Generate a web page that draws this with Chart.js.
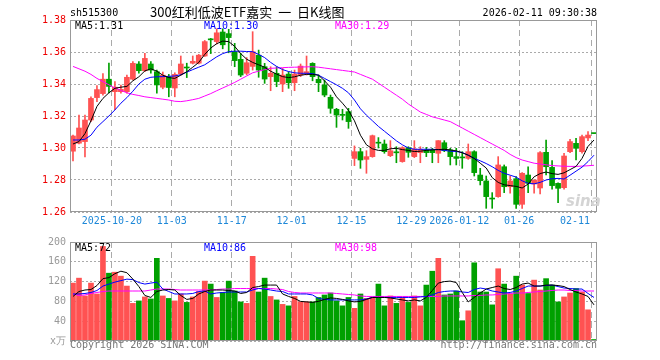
<!DOCTYPE html>
<html>
<head>
<meta charset="utf-8">
<script src="https://cdn.jsdelivr.net/npm/chart.js@4.4.1/dist/chart.umd.min.js"></script>
<style>
    body { margin: 0; background: #fff; width: 660px; height: 360px; overflow: hidden; position: relative;
           font-family: "DejaVu Sans Mono", monospace; font-size: 10px; }
    .t { position: absolute; white-space: pre; line-height: 10px; }
    canvas { position: absolute; left: 0; }
</style>
</head>
<body>
<canvas id="price" width="660" height="232" style="top:0"></canvas>
<canvas id="vol" width="660" height="128" style="top:232px"></canvas>

<div class="t" style="left:70px;top:8px">sh515300</div>
<div class="t" style="left:150px;top:5px;font:13px/13px 'Noto Sans CJK SC';word-spacing:3px">300红利低波ETF嘉实 一 日K线图</div>
<div class="t" style="right:63px;top:8px">2026-02-11 09:30:38</div>
<div class="t" style="left:75px;top:21px;color:#000">MA5:1.31</div>
<div class="t" style="left:204px;top:21px;color:#00f">MA10:1.30</div>
<div class="t" style="left:335px;top:21px;color:#f0f">MA30:1.29</div>
<div class="t" style="left:566px;top:194px;font:italic bold 15px/15px 'DejaVu Sans';color:#d4d4d4">sina</div>
<div class="t" style="left:75px;top:243px;color:#000">MA5:72</div>
<div class="t" style="left:204px;top:243px;color:#00f">MA10:86</div>
<div class="t" style="left:335px;top:243px;color:#f0f">MA30:98</div>
<div class="t" style="left:70px;top:340px;color:#777">Copyright 2026 SINA.COM</div>
<div class="t" style="right:63px;top:340px;color:#777">http://finance.sina.com.cn</div>

<script>
// trading days shown (2025-10-09 .. 2026-02-11)
const dates = [
    '10-09', '10-10', '10-13', '10-14', '10-15', '10-16', '10-17', '10-20', '10-21', '10-22',
    '10-23', '10-24', '10-27', '10-28', '10-29', '10-30', '10-31', '11-03', '11-04', '11-05',
    '11-06', '11-07', '11-10', '11-11', '11-12', '11-13', '11-14', '11-17', '11-18', '11-19',
    '11-20', '11-21', '11-24', '11-25', '11-26', '11-27', '11-28', '12-01', '12-02', '12-03',
    '12-04', '12-05', '12-08', '12-09', '12-10', '12-11', '12-12', '12-15', '12-16', '12-17',
    '12-18', '12-19', '12-22', '12-23', '12-24', '12-25', '12-26', '12-29', '12-30', '12-31',
    '01-05', '01-06', '01-07', '01-08', '01-09', '01-12', '01-13', '01-14', '01-15', '01-16',
    '01-19', '01-20', '01-21', '01-22', '01-23', '01-26', '01-27', '01-28', '01-29', '01-30',
    '02-02', '02-03', '02-04', '02-05', '02-06', '02-09', '02-10', '02-11'
];
const axisLabels = ['2025-10-20', '11-03', '11-17', '12-01', '12-15', '12-29', '2026-01-12', '01-26', '02-11'];

const opens = [
    1.298, 1.303, 1.304, 1.3175, 1.3315, 1.334, 1.343, 1.3352, 1.3352, 1.3352,
    1.343, 1.3525, 1.3483, 1.3525, 1.3477, 1.338, 1.3445, 1.3375, 1.3463, 1.3505,
    1.353, 1.353, 1.3575, 1.3682, 1.3665, 1.3725, 1.3715, 1.3602, 1.3554, 1.3467,
    1.351, 1.358, 1.3508, 1.3446, 1.3467, 1.34, 1.3462, 1.3408, 1.3456, 1.3467,
    1.3529, 1.3429, 1.3394, 1.3317, 1.3242, 1.3208, 1.3227, 1.2935, 1.2977, 1.2929,
    1.2946, 1.3035, 1.3025, 1.2952, 1.2975, 1.2915, 1.3002, 1.2946, 1.2971, 1.2988,
    1.2988, 1.2967, 1.3033, 1.2988, 1.2946, 1.2942, 1.2935, 1.2977, 1.2831, 1.2794,
    1.2685, 1.2696, 1.2883, 1.2758, 1.2808, 1.2648, 1.2831, 1.2775, 1.275, 1.2973,
    1.2879, 1.2779, 1.2752, 1.2977, 1.3029, 1.2977, 1.3063, 1.3092
];
const highs = [
    1.308, 1.3205, 1.3205, 1.332, 1.339, 1.3465, 1.353, 1.3415, 1.3394, 1.3456,
    1.354, 1.354, 1.3592, 1.354, 1.3487, 1.3475, 1.346, 1.347, 1.3575, 1.353,
    1.3575, 1.3585, 1.3672, 1.3685, 1.3745, 1.3745, 1.3742, 1.3654, 1.3592, 1.3565,
    1.3727, 1.3612, 1.3529, 1.3508, 1.3508, 1.3498, 1.3477, 1.3487, 1.3525, 1.3575,
    1.3533, 1.3456, 1.3425, 1.3331, 1.3248, 1.3242, 1.3248, 1.3013, 1.2998, 1.2983,
    1.3081, 1.3065, 1.305, 1.3046, 1.3008, 1.3008, 1.3008, 1.3046, 1.3008, 1.3004,
    1.2998, 1.3046, 1.3046, 1.2998, 1.2998, 1.2977, 1.3025, 1.2983, 1.2873, 1.2825,
    1.2721, 1.2946, 1.2894, 1.2825, 1.2821, 1.2846, 1.2883, 1.28, 1.2977, 1.305,
    1.2921, 1.2783, 1.2967, 1.3054, 1.306, 1.3081, 1.3102, 1.3092
];
const lows = [
    1.292, 1.3025, 1.2945, 1.3165, 1.329, 1.333, 1.3345, 1.324, 1.3342, 1.3342,
    1.3425, 1.3467, 1.3477, 1.3467, 1.3342, 1.337, 1.332, 1.332, 1.3455, 1.344,
    1.3525, 1.3525, 1.3572, 1.359, 1.365, 1.362, 1.3595, 1.3508, 1.3446, 1.3457,
    1.3487, 1.3442, 1.3404, 1.3358, 1.3383, 1.3352, 1.3373, 1.3358, 1.3446, 1.3456,
    1.342, 1.3352, 1.332, 1.3217, 1.3129, 1.3175, 1.3123, 1.289, 1.2873, 1.2842,
    1.2942, 1.3, 1.2967, 1.2946, 1.2908, 1.2911, 1.2942, 1.294, 1.2908, 1.2946,
    1.2908, 1.2908, 1.2977, 1.2894, 1.2894, 1.2873, 1.2929, 1.2825, 1.2769, 1.2623,
    1.2623, 1.2692, 1.2721, 1.2717, 1.2623, 1.2623, 1.2721, 1.2717, 1.2713, 1.2831,
    1.2742, 1.2658, 1.2742, 1.2971, 1.2925, 1.2967, 1.3046, 1.309
];
const closes = [
    1.3075, 1.3125, 1.3175, 1.331, 1.3365, 1.343, 1.3385, 1.338, 1.3367, 1.3442,
    1.3529, 1.3483, 1.356, 1.3487, 1.3394, 1.3455, 1.3378, 1.346, 1.3525, 1.35,
    1.3542, 1.358, 1.3665, 1.3676, 1.372, 1.3645, 1.369, 1.3546, 1.3456, 1.3533,
    1.3602, 1.3487, 1.3431, 1.3467, 1.3415, 1.3456, 1.3408, 1.3462, 1.3512, 1.3477,
    1.3446, 1.3408, 1.3331, 1.3248, 1.3206, 1.3204, 1.3165, 1.2977, 1.2925, 1.2946,
    1.3077, 1.303, 1.2977, 1.2983, 1.297, 1.3002, 1.2973, 1.2994, 1.2992, 1.2971,
    1.2971, 1.3046, 1.2983, 1.2946, 1.2935, 1.2938, 1.2977, 1.2846, 1.2796, 1.2696,
    1.2681, 1.2894, 1.2758, 1.2794, 1.2648, 1.2842, 1.2779, 1.28, 1.2971, 1.2883,
    1.2765, 1.2748, 1.295, 1.304, 1.2998, 1.3071, 1.3081, 1.309
];

// moving average lines
const ma5 = [
    1.3025, 1.304, 1.309, 1.317, 1.326, 1.331, 1.3345, 1.3373, 1.338, 1.3385,
    1.342, 1.3445, 1.3482, 1.3495, 1.348, 1.3455, 1.344, 1.3435, 1.3455, 1.3477,
    1.3505, 1.3535, 1.3585, 1.3625, 1.3652, 1.3668, 1.3665, 1.3635, 1.359, 1.3555,
    1.3535, 1.352, 1.3505, 1.348, 1.3462, 1.3446, 1.344, 1.3445, 1.3455, 1.346,
    1.346, 1.3455, 1.342, 1.338, 1.332, 1.328, 1.3235, 1.317, 1.308, 1.302,
    1.2995, 1.2985, 1.2985, 1.2995, 1.2998, 1.299, 1.2985, 1.2978, 1.298, 1.2985,
    1.2988, 1.299, 1.2992, 1.2988, 1.2982, 1.297, 1.2955, 1.2935, 1.2905, 1.2875,
    1.2815, 1.2785, 1.277, 1.2765, 1.276, 1.275, 1.2775, 1.282, 1.284, 1.285,
    1.284, 1.2835, 1.2845, 1.2865, 1.2885, 1.2935, 1.301, 1.305
];
const ma10 = [
    1.305, 1.305, 1.3055, 1.308, 1.313, 1.3165, 1.32, 1.3238, 1.328, 1.3315,
    1.3355, 1.34, 1.343, 1.3442, 1.3445, 1.3446, 1.3448, 1.345, 1.3458, 1.3474,
    1.349, 1.3505, 1.352, 1.3545, 1.357, 1.359, 1.3602, 1.3605, 1.3605, 1.3603,
    1.3602, 1.3585, 1.3565, 1.3535, 1.351, 1.349, 1.3478, 1.347, 1.3467, 1.3467,
    1.3465, 1.3455, 1.3435, 1.3415, 1.3395, 1.3373, 1.3345, 1.33, 1.3245, 1.3205,
    1.317, 1.3135, 1.3105, 1.3075, 1.3045, 1.302, 1.3, 1.2992, 1.2992, 1.2992,
    1.2992, 1.299, 1.2985, 1.298, 1.2978, 1.2972, 1.2955, 1.2935, 1.292, 1.2903,
    1.2883, 1.286, 1.2842, 1.283, 1.2818, 1.2795, 1.2779, 1.2776, 1.2785, 1.28,
    1.2808, 1.281, 1.2806, 1.283, 1.2855, 1.288, 1.2915, 1.2955
];
const ma30 = [
    1.351, 1.3495, 1.348, 1.346, 1.3435, 1.3415, 1.3395, 1.3375, 1.336, 1.3345,
    1.3335, 1.3328, 1.332, 1.3315, 1.331, 1.3305, 1.33, 1.3292, 1.329, 1.3295,
    1.3302, 1.331, 1.3325, 1.334, 1.3358, 1.3375, 1.3392, 1.341, 1.343, 1.345,
    1.347, 1.348, 1.349, 1.3498, 1.35, 1.3502, 1.3504, 1.3505, 1.3506, 1.3507,
    1.3508, 1.3505, 1.35, 1.3495, 1.349, 1.3485, 1.348, 1.3475, 1.346, 1.3445,
    1.343, 1.3405, 1.338, 1.3355, 1.333, 1.3305, 1.3275, 1.325, 1.3225, 1.321,
    1.3195, 1.3185, 1.3175, 1.3165, 1.3145, 1.3125, 1.3105, 1.3085, 1.3065, 1.3045,
    1.3025, 1.3005, 1.2985, 1.296, 1.294, 1.2925, 1.2915, 1.2905, 1.29, 1.2895,
    1.289, 1.2888, 1.2886, 1.2885, 1.2885, 1.2887, 1.2889, 1.2892
];

// volume, in 10k shares
const volumes = [
    117, 127, 91, 117, 95, 191, 137, 139, 131, 111,
    76, 81, 89, 85, 167, 91, 86, 81, 95, 78,
    89, 100, 121, 115, 88, 98, 121, 101, 79, 76,
    171, 99, 127, 90, 83, 74, 71, 90, 79, 79,
    79, 88, 93, 97, 81, 71, 88, 66, 95, 86,
    88, 115, 71, 91, 76, 88, 78, 91, 71, 113,
    141, 167, 93, 95, 101, 41, 61, 158, 99, 99,
    73, 146, 115, 95, 131, 113, 96, 123, 103, 126,
    113, 79, 89, 97, 106, 99, 63, 3
];
const volMa5 = [
    90, 100, 103, 104, 112, 126, 128, 136, 141, 138,
    125, 110, 92, 88, 100, 103, 104, 103, 92, 84,
    86, 95, 100, 103, 103, 103, 102, 101, 96, 98,
    108, 110, 113, 113, 113, 95, 90, 86, 80, 79,
    78, 80, 84, 87, 86, 84, 81, 79, 80, 84,
    88, 88, 88, 87, 85, 83, 81, 83, 81, 88,
    102, 117, 120, 121, 118, 98, 79, 88, 97, 105,
    108, 111, 106, 104, 108, 115, 117, 111, 111, 113,
    113, 112, 110, 104, 99, 95, 90, 73
];
const volMa10 = [
    95, 95, 96, 98, 102, 111, 115, 119, 122, 125,
    124, 118, 115, 117, 119, 105, 100, 95, 95, 95,
    96, 100, 101, 95, 97, 98, 99, 99, 99, 99,
    103, 106, 105, 103, 101, 100, 95, 95, 95, 95,
    93, 86, 84, 83, 83, 83, 83, 83, 83, 85,
    88, 88, 88, 88, 88, 88, 88, 88, 89, 90,
    93, 98, 100, 101, 101, 99, 98, 104, 107, 105,
    101, 99, 97, 98, 101, 106, 111, 111, 111, 112,
    113, 110, 107, 106, 105, 105, 96, 88
];
const volMa30 = [
    95, 92, 93, 96, 98, 100, 101, 101, 101, 101,
    101, 101, 101, 103, 105, 105, 105, 104, 103, 103,
    103, 103, 103, 103, 104, 105, 105, 106, 106, 106,
    106, 106, 106, 106, 105, 104, 100, 98, 97, 97,
    97, 97, 97, 97, 96, 95, 94, 93, 91, 90,
    90, 90, 90, 90, 90, 90, 90, 90, 90, 90,
    90, 90, 91, 91, 91, 91, 91, 92, 92, 93,
    93, 94, 95, 96, 97, 97, 98, 99, 100, 101,
    102, 103, 103, 102, 102, 101, 101, 101
];

const UP = '#ff5252';
const DOWN = '#00a000';
const GRID = '#aaa';
const MONO = 'DejaVu Sans Mono';

const candleColors = closes.map((c, i) => c >= opens[i] ? UP : DOWN);
const gridIdx = axisLabels.map(l => dates.indexOf(l.slice(-5)));

function maLine(data, color) {
    return {type: 'line', data: data, borderColor: color, borderWidth: 1, pointRadius: 0, tension: 0, order: 0};
}

// grey frame round the plot area
const framePlugin = {
    id: 'frame',
    afterDraw(chart) {
        const {ctx, chartArea: a} = chart;
        ctx.save();
        ctx.strokeStyle = '#999';
        ctx.lineWidth = 1;
        ctx.strokeRect(Math.round(a.left) + 0.5, Math.round(a.top) + 0.5,
            Math.round(a.right - a.left) - 1, Math.round(a.bottom - a.top) - 1);
        ctx.restore();
    }
};

// date labels, centred on the dashed lines
const dateLabelPlugin = {
    id: 'dateLabels',
    afterDraw(chart) {
        const {ctx, chartArea: a, scales: {x}} = chart;
        const half = (a.right - a.left) / dates.length / 2;
        ctx.save();
        ctx.font = '10px "' + MONO + '"';
        ctx.fillStyle = '#1e88d8';
        ctx.textBaseline = 'middle';
        axisLabels.forEach(function (lab) {
            const gx = x.getPixelForValue(dates.indexOf(lab.slice(-5))) - half;
            const w = ctx.measureText(lab).width;
            if (gx + w / 2 > a.right) {
                ctx.textAlign = 'right';
                ctx.fillText(lab, gx - 1, a.bottom + 9);
            } else {
                ctx.textAlign = 'center';
                ctx.fillText(lab, gx, a.bottom + 9);
            }
        });
        ctx.restore();
    }
};

function xScale() {
    return {
        offset: true,
        grid: {offset: true, drawTicks: false, color: ctx => gridIdx.includes(ctx.index) ? GRID : 'transparent'},
        border: {display: false, dash: [6, 4]},
        ticks: {display: false, autoSkip: false},
        afterFit: s => { s.height = 0; }
    };
}

new Chart(document.getElementById('price'), {
    type: 'bar',
    data: {
        labels: dates,
        datasets: [
            maLine(ma5, '#000'),
            maLine(ma10, '#00f'),
            maLine(ma30, '#f0f'),
            {
                data: opens.map((o, i) => [o, closes[i]]),
                backgroundColor: candleColors,
                barThickness: 5, minBarLength: 1, grouped: false, order: 1
            },
            {
                data: lows.map((l, i) => [l, highs[i]]),
                backgroundColor: candleColors,
                barThickness: 1, grouped: false, order: 2
            }
        ]
    },
    options: {
        responsive: false,
        animation: false,
        events: [],
        layout: {padding: {top: 20, right: 63, bottom: 20, left: 0}},
        plugins: {legend: {display: false}, tooltip: {enabled: false}},
        scales: {
            x: xScale(),
            y: {
                min: 1.26, max: 1.38,
                ticks: {stepSize: 0.02, color: '#e00', padding: 4, font: {family: MONO, size: 10},
                    callback: v => v.toFixed(2)},
                grid: {drawTicks: false, color: GRID},
                border: {display: false, dash: [2, 2]},
                afterFit: s => { s.width = 70; }
            }
        }
    },
    plugins: [framePlugin, dateLabelPlugin]
});

new Chart(document.getElementById('vol'), {
    type: 'bar',
    data: {
        labels: dates,
        datasets: [
            maLine(volMa5, '#000'),
            maLine(volMa10, '#00f'),
            maLine(volMa30, '#f0f'),
            {data: volumes, backgroundColor: candleColors, barThickness: 5, grouped: false, order: 1}
        ]
    },
    options: {
        responsive: false,
        animation: false,
        events: [],
        layout: {padding: {top: 8, right: 63, bottom: 19, left: 0}},
        plugins: {legend: {display: false}, tooltip: {enabled: false}},
        scales: {
            x: xScale(),
            y: {
                min: 0, max: 200,
                ticks: {stepSize: 40, color: '#999', padding: 4, font: {family: MONO, size: 10},
                    callback: v => v === 0 ? 'x万' : v},
                grid: {drawTicks: false, color: GRID},
                border: {display: false, dash: [2, 2]},
                afterFit: s => { s.width = 70; }
            }
        }
    },
    plugins: [framePlugin]
});
</script>
</body>
</html>
